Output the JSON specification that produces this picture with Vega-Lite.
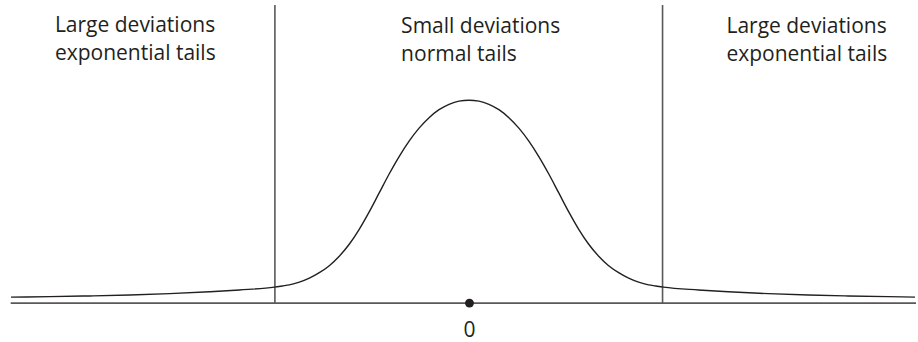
{
  "$schema": "https://vega.github.io/schema/vega-lite/v6.json",
  "width": 918,
  "height": 342,
  "autosize": {"type": "fit", "contains": "padding"},
  "padding": 0,
  "background": "white",
  "config": {"view": {"stroke": null}},
  "datasets": {
    "curve": [
      {"x": -459, "y": 6}, {"x": -420, "y": 6.5}, {"x": -380, "y": 7.2}, {"x": -340, "y": 8.1},
      {"x": -300, "y": 9.5}, {"x": -260, "y": 11.4}, {"x": -230, "y": 13.2}, {"x": -195, "y": 16},
      {"x": -187, "y": 17.2}, {"x": -180, "y": 18.3}, {"x": -170, "y": 21}, {"x": -160, "y": 25},
      {"x": -150, "y": 30.5}, {"x": -140, "y": 37.5}, {"x": -130, "y": 47}, {"x": -120, "y": 59},
      {"x": -110, "y": 74}, {"x": -100, "y": 91.5}, {"x": -90, "y": 110.5}, {"x": -80, "y": 129.5},
      {"x": -70, "y": 147}, {"x": -60, "y": 162.5}, {"x": -50, "y": 175.5}, {"x": -40, "y": 186},
      {"x": -30, "y": 194}, {"x": -20, "y": 199.4}, {"x": -10, "y": 202.6}, {"x": 0, "y": 203.5},
      {"x": 10, "y": 202.6}, {"x": 20, "y": 199.4}, {"x": 30, "y": 194}, {"x": 40, "y": 186},
      {"x": 50, "y": 175.5}, {"x": 60, "y": 162.5}, {"x": 70, "y": 147}, {"x": 80, "y": 129.5},
      {"x": 90, "y": 110.5}, {"x": 100, "y": 91.5}, {"x": 110, "y": 74}, {"x": 120, "y": 59},
      {"x": 130, "y": 47}, {"x": 140, "y": 37.5}, {"x": 150, "y": 30.5}, {"x": 160, "y": 25},
      {"x": 170, "y": 21}, {"x": 180, "y": 18.3}, {"x": 187, "y": 17.2}, {"x": 195, "y": 16},
      {"x": 230, "y": 13.2}, {"x": 260, "y": 11.4}, {"x": 300, "y": 9.5}, {"x": 340, "y": 8.1},
      {"x": 380, "y": 7.2}, {"x": 420, "y": 6.5}, {"x": 447, "y": 6}
    ],
    "baseline": [{"x": -459.3, "x2": 448, "y": 0}],
    "dividers": [{"x": -194.5, "y": 0, "y2": 299}, {"x": 194, "y": 0, "y2": 299}],
    "origin": [{"x": 0.5, "y": 0, "label": "0"}],
    "labels": [
      {"x": -415, "y": 271.8, "text": "Large deviations"},
      {"x": -415, "y": 243.6, "text": "exponential tails"},
      {"x": -68, "y": 271.2, "text": "Small deviations"},
      {"x": -68, "y": 243, "text": "normal tails"},
      {"x": 258, "y": 271.2, "text": "Large deviations"},
      {"x": 258, "y": 243, "text": "exponential tails"}
    ]
  },
  "encoding": {},
  "layer": [
    {
      "data": {"name": "baseline"},
      "mark": {"type": "rule", "color": "#58595b", "strokeWidth": 1.6},
      "encoding": {
        "x": {"field": "x", "type": "quantitative", "scale": {"domain": [-470, 448], "nice": false, "zero": false}, "axis": null},
        "x2": {"field": "x2"},
        "y": {"field": "y", "type": "quantitative", "scale": {"domain": [-38, 304], "nice": false, "zero": false}, "axis": null}
      }
    },
    {
      "data": {"name": "dividers"},
      "mark": {"type": "rule", "color": "#58595b", "strokeWidth": 1.6},
      "encoding": {
        "x": {"field": "x", "type": "quantitative", "scale": {"domain": [-470, 448], "nice": false, "zero": false}, "axis": null},
        "y": {"field": "y", "type": "quantitative", "scale": {"domain": [-38, 304], "nice": false, "zero": false}, "axis": null},
        "y2": {"field": "y2"}
      }
    },
    {
      "data": {"name": "curve"},
      "mark": {"type": "line", "color": "#231f20", "strokeWidth": 1.4, "interpolate": "monotone"},
      "encoding": {
        "x": {"field": "x", "type": "quantitative", "scale": {"domain": [-470, 448], "nice": false, "zero": false}, "axis": null},
        "y": {"field": "y", "type": "quantitative", "scale": {"domain": [-38, 304], "nice": false, "zero": false}, "axis": null}
      }
    },
    {
      "data": {"name": "origin"},
      "mark": {"type": "point", "filled": true, "color": "#231f20", "size": 80, "opacity": 1},
      "encoding": {
        "x": {"field": "x", "type": "quantitative", "scale": {"domain": [-470, 448], "nice": false, "zero": false}, "axis": null},
        "y": {"field": "y", "type": "quantitative", "scale": {"domain": [-38, 304], "nice": false, "zero": false}, "axis": null}
      }
    },
    {
      "data": {"name": "origin"},
      "mark": {"type": "text", "font": "Open Sans", "fontSize": 21, "color": "#231f20", "align": "center", "baseline": "alphabetic", "dy": 34.3},
      "encoding": {
        "x": {"field": "x", "type": "quantitative", "scale": {"domain": [-470, 448], "nice": false, "zero": false}, "axis": null},
        "y": {"field": "y", "type": "quantitative", "scale": {"domain": [-38, 304], "nice": false, "zero": false}, "axis": null},
        "text": {"field": "label"}
      }
    },
    {
      "data": {"name": "labels"},
      "mark": {"type": "text", "font": "Open Sans", "fontSize": 21, "color": "#231f20", "align": "left", "baseline": "alphabetic"},
      "encoding": {
        "x": {"field": "x", "type": "quantitative", "scale": {"domain": [-470, 448], "nice": false, "zero": false}, "axis": null},
        "y": {"field": "y", "type": "quantitative", "scale": {"domain": [-38, 304], "nice": false, "zero": false}, "axis": null},
        "text": {"field": "text"}
      }
    }
  ]
}
